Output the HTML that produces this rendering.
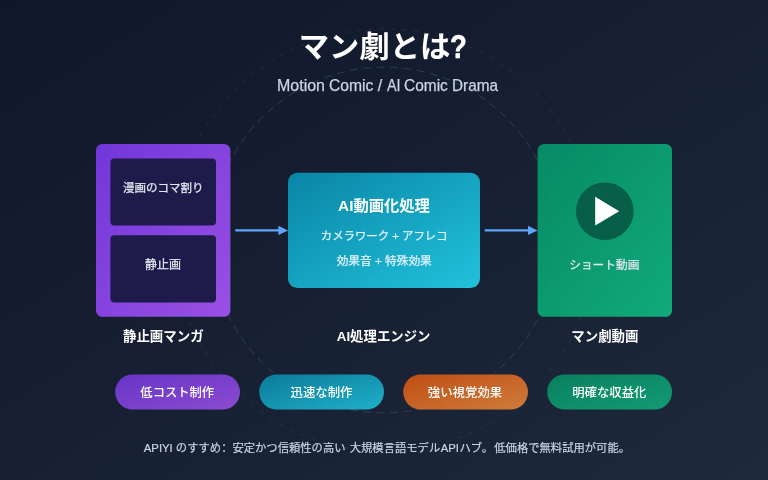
<!DOCTYPE html>
<html lang="ja">
<head>
<meta charset="utf-8">
<title>マン劇とは?</title>
<style>
html,body{margin:0;padding:0;background:#141b2d;}
body{width:768px;height:480px;overflow:hidden;}
svg{display:block;will-change:transform;}
text{font-family:"Liberation Sans","Noto Sans CJK JP",sans-serif;}
</style>
</head>
<body>
<svg width="768" height="480" viewBox="0 0 768 480">
<defs>
<linearGradient id="bg" x1="0" y1="0" x2="1" y2="1">
<stop offset="0" stop-color="#0f172a"/><stop offset="1" stop-color="#1e293b"/>
</linearGradient>
<linearGradient id="gp" x1="0" y1="0" x2="1" y2="1">
<stop offset="0" stop-color="#7c3aed"/><stop offset="1" stop-color="#a855f7"/>
</linearGradient>
<linearGradient id="gc" x1="0" y1="0" x2="1" y2="1">
<stop offset="0" stop-color="#0891b2"/><stop offset="1" stop-color="#22d3ee"/>
</linearGradient>
<linearGradient id="gg" x1="0" y1="0" x2="1" y2="1">
<stop offset="0" stop-color="#059669"/><stop offset="1" stop-color="#10b981"/>
</linearGradient>
<linearGradient id="go" x1="0" y1="0" x2="1" y2="1">
<stop offset="0" stop-color="#ea580c"/><stop offset="1" stop-color="#fb923c"/>
</linearGradient>
</defs>
<rect width="768" height="480" fill="url(#bg)"/>
<circle cx="384" cy="240" r="172.8" fill="none" stroke="#475569" stroke-width="1" stroke-dasharray="7.9 5.5" stroke-dashoffset="-2.7" opacity="0.55"/>
<circle cx="384" cy="240" r="211.2" fill="none" stroke="#475569" stroke-width="1" stroke-dasharray="3.8 7.73" stroke-dashoffset="1.2" opacity="0.32"/>

<text y="56.9" font-weight="700" fill="#ffffff"><tspan x="298.8" font-size="29.3" textLength="151.5" lengthAdjust="spacingAndGlyphs">マン劇とは</tspan><tspan x="450" y="57.5" font-size="34" stroke="#ffffff" stroke-width="0.6" textLength="16.8" lengthAdjust="spacingAndGlyphs">?</tspan></text>
<text y="91" font-size="16" fill="#cbd5e1" stroke="#cbd5e1" stroke-width="0.25"><tspan x="277" textLength="48" lengthAdjust="spacingAndGlyphs">Motion</tspan> <tspan x="329" textLength="44.4" lengthAdjust="spacingAndGlyphs">Comic</tspan> <tspan x="377.75">/</tspan> <tspan x="386.9" textLength="13.6" lengthAdjust="spacingAndGlyphs">AI</tspan> <tspan x="404" textLength="43.8" lengthAdjust="spacingAndGlyphs">Comic</tspan> <tspan x="452" textLength="46" lengthAdjust="spacingAndGlyphs">Drama</tspan></text>

<!-- left -->
<rect x="96" y="144" width="134.4" height="172.8" rx="6.4" fill="url(#gp)" opacity="0.9"/>
<rect x="110.4" y="158.4" width="105.6" height="67.2" rx="4" fill="#1e1b4b"/>
<rect x="110.4" y="235.2" width="105.6" height="67.2" rx="4" fill="#1e1b4b"/>
<text x="163.2" y="192" font-size="11.5" fill="#e2e8f0" stroke="#e2e8f0" stroke-width="0.25" text-anchor="middle">漫画のコマ割り</text>
<text x="163.1" y="269.3" font-size="12" fill="#e2e8f0" stroke="#e2e8f0" stroke-width="0.25" text-anchor="middle">静止画</text>
<text x="163.3" y="340.8" font-size="13.45" font-weight="700" fill="#ffffff" text-anchor="middle">静止画マンガ</text>

<!-- arrows -->
<line x1="235.2" y1="230.4" x2="279" y2="230.4" stroke="#60a5fa" stroke-width="2.4"/>
<polygon points="278.4,225.8 288,230.4 278.4,235" fill="#60a5fa"/>
<line x1="484.8" y1="230.4" x2="528.6" y2="230.4" stroke="#60a5fa" stroke-width="2.4"/>
<polygon points="528,225.8 537.6,230.4 528,235" fill="#60a5fa"/>

<!-- center -->
<rect x="288" y="172.8" width="192" height="115.2" rx="9.6" fill="url(#gc)" opacity="0.9"/>
<text x="384" y="210.6" font-size="15.3" font-weight="700" fill="#ffffff" text-anchor="middle">AI動画化処理</text>
<text x="384.2" y="240.3" font-size="11.4" fill="#e0f2fe" stroke="#e0f2fe" stroke-width="0.25" text-anchor="middle">カメラワーク + アフレコ</text>
<text x="384.2" y="264.5" font-size="11.7" fill="#e0f2fe" stroke="#e0f2fe" stroke-width="0.25" text-anchor="middle">効果音 + 特殊効果</text>
<text x="383.6" y="340.8" font-size="13.4" font-weight="700" fill="#ffffff" text-anchor="middle">AI処理エンジン</text>

<!-- right -->
<rect x="537.6" y="144" width="134.4" height="172.8" rx="6.4" fill="url(#gg)" opacity="0.9"/>
<circle cx="604.8" cy="211.2" r="28.8" fill="#065f46"/>
<polygon points="595.2,196.8 595.2,225.6 619.2,211.2" fill="#ffffff"/>
<text x="604.3" y="269.3" font-size="11.7" fill="#e2e8f0" stroke="#e2e8f0" stroke-width="0.25" text-anchor="middle">ショート動画</text>
<text x="604.9" y="340.8" font-size="13.45" font-weight="700" fill="#ffffff" text-anchor="middle">マン劇動画</text>

<!-- pills -->
<rect x="115.2" y="374.4" width="124.8" height="35.2" rx="17.6" fill="url(#gp)" opacity="0.8"/>
<text x="177.25" y="396.8" font-size="12.3" font-weight="500" fill="#ffffff" text-anchor="middle">低コスト制作</text>
<rect x="259.2" y="374.4" width="124.8" height="35.2" rx="17.6" fill="url(#gc)" opacity="0.8"/>
<text x="321.5" y="396.8" font-size="12.4" font-weight="500" fill="#ffffff" text-anchor="middle">迅速な制作</text>
<rect x="403.2" y="374.4" width="124.8" height="35.2" rx="17.6" fill="url(#go)" opacity="0.8"/>
<text x="465" y="396.8" font-size="12.4" font-weight="500" fill="#ffffff" text-anchor="middle">強い視覚効果</text>
<rect x="547.2" y="374.4" width="124.8" height="35.2" rx="17.6" fill="url(#gg)" opacity="0.8"/>
<text x="609.3" y="396.8" font-size="12.35" font-weight="500" fill="#ffffff" text-anchor="middle">明確な収益化</text>

<text x="143.8" y="452" font-size="11.32" fill="#cbd5e1" stroke="#cbd5e1" stroke-width="0.2">APIYI のすすめ<tspan font-family="Noto Sans CJK SC" lang="zh-CN" xml:lang="zh-CN">：</tspan>安定かつ信頼性の高い <tspan dx="1">大</tspan>規模言語モデル<tspan dx="0.5">A</tspan>PI<tspan dx="0.5">ハ</tspan>ブ。<tspan dx="1.2">低</tspan>価格で無料試用が可能。</text>
</svg>
</body>
</html>
